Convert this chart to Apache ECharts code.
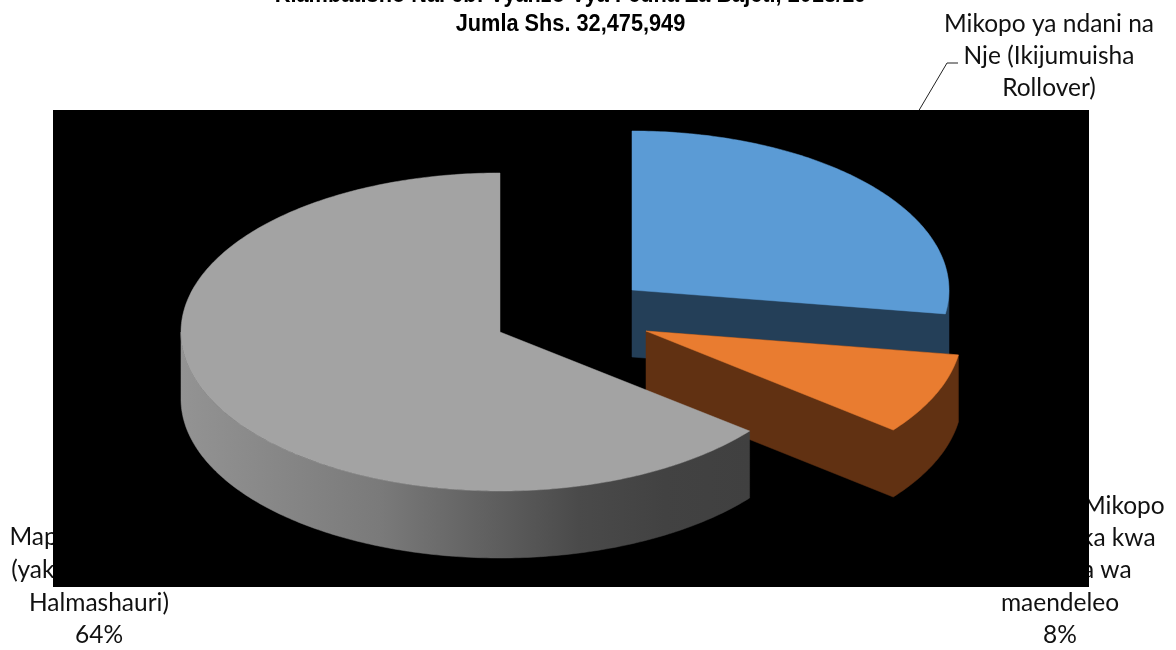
<!DOCTYPE html>
<html><head><meta charset="utf-8">
<style>html,body{margin:0;padding:0;background:#fff}#c{width:1176px;height:650px}</style>
<script src="https://cdn.jsdelivr.net/npm/echarts@6/dist/echarts.min.js"></script>
</head><body><div id="c"></div>
<script>
const titleLines = ['Kiambatisho Na. 6b: Vyanzo Vya Fedha Za Bajeti, 2018/19', 'Jumla Shs. 32,475,949'];
const categories = ['Mikopo ya ndani na Nje (Ikijumuisha Rollover)', 'Misaada na Mikopo nafuu kutoka kwa Washirika wa maendeleo', 'Mapato ya ndani (yakijumuisha ya Halmashauri)'];
const values = [27.4, 8.3, 64.3];
const percentLabels = ['28%', '8%', '64%'];
const topColors = ['#5b9bd5', '#e97c30', '#a3a3a3'];
const sideColors = ['#243f58', '#613112', null];

const radiiX = [317, 316, 319], ry = 159, depth = 67;
const centers = [[632, 290], [646, 331], [500, 332]];
const total = values.reduce((a, b) => a + b, 0);
const starts = [];
values.reduce((acc, v, i) => { starts[i] = acc; return acc + v; }, 0);

function pt(i, deg, dy) {
  const t = deg * Math.PI / 180, c = centers[i];
  return [c[0] + radiiX[i] * Math.sin(t), c[1] - ry * Math.cos(t) + (dy || 0)];
}
function arc(i, a0, a1, dy) {
  const out = [], n = Math.max(8, Math.ceil(Math.abs(a1 - a0) / 0.75));
  for (let k = 0; k <= n; k++) out.push(pt(i, a0 + (a1 - a0) * k / n, dy));
  return out;
}
function poly(points, fill) {
  return { type: 'polygon', shape: { points }, style: { fill, stroke: fill, lineWidth: 0.5 } };
}
const graySide = {
  type: 'linear', x: 181, y: 0, x2: 750, y2: 0, global: true,
  colorStops: [
    { offset: 0, color: '#939393' }, { offset: 0.35, color: '#7a7a7a' },
    { offset: 0.7, color: '#4a4a4a' }, { offset: 0.85, color: '#424242' }, { offset: 1, color: '#404040' }
  ]
};

function renderItem(params, api) {
  const i = params.dataIndex;
  const a0 = starts[i] / total * 360;
  const a1 = (starts[i] + api.value(0)) / total * 360;
  const c = centers[i];
  const kids = [];
  const w0 = Math.max(a0, 90), w1 = Math.min(a1, 270);
  if (sideColors[i]) {
    // wall and cut face drawn as one shape, so no seam shows between them
    kids.push(poly([c, pt(i, w0, 0)].concat(arc(i, w0, a1, depth), [[c[0], c[1] + depth]]), sideColors[i]));
  } else {
    kids.push(poly(arc(i, w0, w1, 0).concat(arc(i, w1, w0, depth)), graySide));
  }
  kids.push(poly([c].concat(arc(i, a0, a1, 0)), topColors[i]));
  return { type: 'group', children: kids };
}

function label(lines, x, ys) {
  return lines.map((t, k) => ({
    type: 'text', z: 0, x, y: ys[k],
    style: { text: t, font: '24.5px Lato', fill: '#111', align: 'center', verticalAlign: 'middle' }
  }));
}
function titleText(t, y) {
  return { type: 'text', z: 0, x: 570.5, y, scaleX: 0.945, style: { text: t, font: 'bold 23px "Liberation Sans"', fill: '#000', align: 'center', verticalAlign: 'middle' } };
}

const chart = echarts.init(document.getElementById('c'), null, { renderer: 'canvas' });
chart.setOption({
  animation: false,
  backgroundColor: '#fff',
  graphic: [
    titleText(titleLines[0], -4),
    titleText(titleLines[1], 25),
    { type: 'polyline', z: 0, shape: { points: [[918, 112], [947, 63], [958, 63]] }, style: { stroke: '#222', lineWidth: 1, fill: null } },
    ...label(['Mikopo ya ndani na', 'Nje (Ikijumuisha', 'Rollover)', percentLabels[0]], 1049, [24, 56, 88, 120]),
    ...label(['Misaada na Mikopo', 'nafuu kutoka kwa', 'Washirika wa', 'maendeleo', percentLabels[1]], 1060, [506, 538, 570, 603, 635]),
    ...label(['Mapato ya ndani', '(yakijumuisha ya', 'Halmashauri)', percentLabels[2]], 99, [537, 570, 603, 635]),
    { type: 'rect', z: 1, shape: { x: 53, y: 110, width: 1036, height: 477 }, style: { fill: '#000' } }
  ],
  series: [{
    type: 'custom',
    name: 'Vyanzo',
    coordinateSystem: 'none',
    z: 5,
    silent: true,
    renderItem,
    data: values.map((v, i) => ({ name: categories[i], value: [v] }))
  }]
});
</script></body></html>
